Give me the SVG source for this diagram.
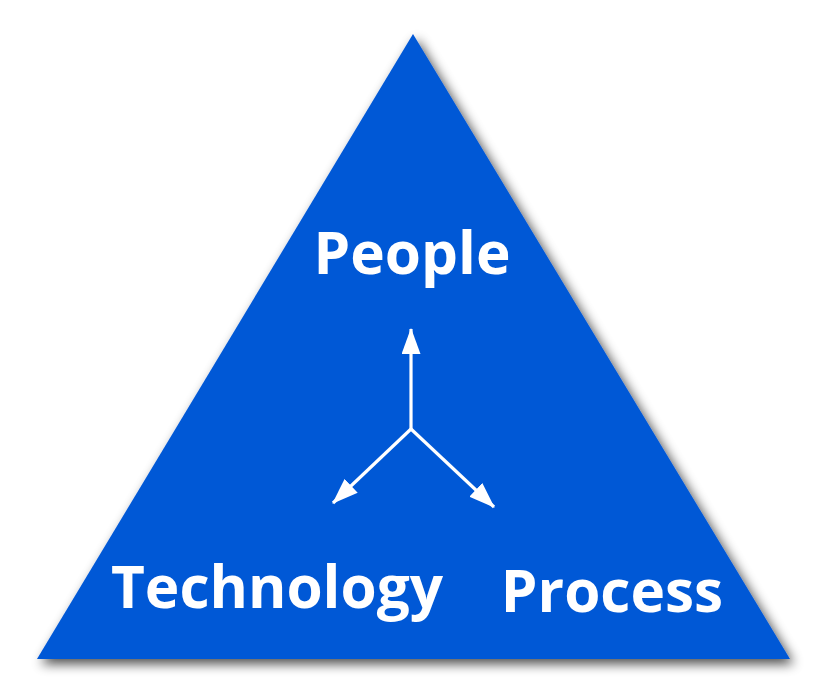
<svg xmlns="http://www.w3.org/2000/svg" width="827" height="694" viewBox="0 0 827 694">
<defs>
<filter id="sh" x="-10%" y="-10%" width="120%" height="125%">
<feGaussianBlur in="SourceAlpha" stdDeviation="6"/>
<feOffset dx="4" dy="5" result="b"/>
<feComponentTransfer><feFuncA type="linear" slope="0.7"/></feComponentTransfer>
<feMerge><feMergeNode/><feMergeNode in="SourceGraphic"/></feMerge>
</filter>
<marker id="ah" viewBox="0 0 26 19" refX="25" refY="9.5" markerWidth="26" markerHeight="19" markerUnits="userSpaceOnUse" orient="auto">
<path d="M0,0 L26,9.5 L0,19 z" fill="#fff"/>
</marker>
<style>
.lbl{font-family:"Open Sans","Noto Sans","DejaVu Sans",sans-serif;font-weight:bold;fill:#fff;font-size:58.5px}
.ar{stroke:#fff;stroke-width:3.2;fill:none;marker-end:url(#ah)}
</style>
</defs>
<rect width="827" height="694" fill="#fff"/>
<g id="triangle">
<polygon points="413,34 790,659 37,659" fill="#0058D6" filter="url(#sh)"/>
</g>
<g id="connectors">
<line class="ar" x1="411" y1="429" x2="411" y2="329"/>
<line class="ar" x1="411" y1="429" x2="333" y2="503"/>
<line class="ar" x1="411" y1="429" x2="494" y2="507"/>
</g>
<g id="people"><text class="lbl" x="412" y="274" text-anchor="middle">People</text></g>
<g id="technology"><text class="lbl" x="277" y="608" text-anchor="middle">Technology</text></g>
<g id="process"><text class="lbl" x="612" y="612" text-anchor="middle">Process</text></g>
</svg>
